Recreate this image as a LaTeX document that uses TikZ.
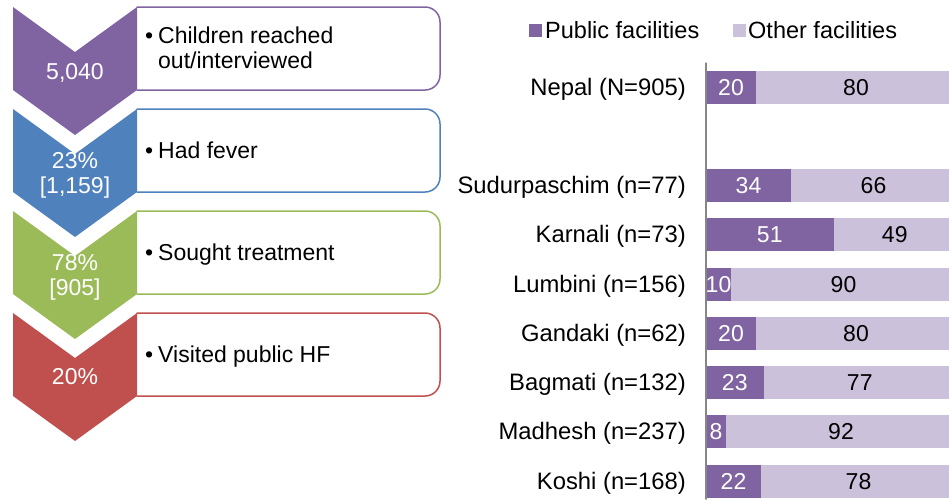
\documentclass[tikz,border=0pt]{standalone}
\usepackage{fontspec}
\setmainfont{Liberation Sans}
\usepackage{tikz}
\definecolor{chevpur}{rgb}{0.502,0.392,0.635}
\definecolor{chevblu}{rgb}{0.310,0.506,0.741}
\definecolor{chevgrn}{rgb}{0.608,0.733,0.349}
\definecolor{chevred}{rgb}{0.753,0.314,0.302}
\definecolor{barlight}{rgb}{0.800,0.757,0.855}
\definecolor{axisgray}{rgb}{0.525,0.525,0.525}

\begin{document}
\begin{tikzpicture}[line cap=round,line join=round,x=1pt,y=-1pt,
		every node/.style={font=\fontsize{23}{25}\selectfont},
		boxline/.style={line width=1.5pt,rounded corners=15pt},
		chevtext/.style={text=white,align=center,inner sep=0pt},
		bullettext/.style={anchor=west,inner sep=0pt},
		catlabel/.style={anchor=base east,inner sep=0pt,font=\fontsize{23.8}{25}\selectfont},
		legtext/.style={anchor=base west,inner sep=0pt,font=\fontsize{23.5}{25}\selectfont},
		barlabel/.style={anchor=base,inner sep=0pt},
		legsquare/.style={minimum size=13pt,inner sep=0pt}]
		\useasboundingbox (0.,0.) rectangle (949.,499.);
		\clip (0.,0.) rectangle (949.,499.);
		% steps
		\draw [boxline,color=chevpur] (137.,7.) -- (440.,7.) -- (440.,90.) -- (137.,90.);
		\draw [boxline,color=chevblu] (137.,109.) -- (440.,109.) -- (440.,192.) -- (137.,192.);
		\draw [boxline,color=chevgrn] (137.,211.) -- (440.,211.) -- (440.,294.) -- (137.,294.);
		\draw [boxline,color=chevred] (137.,313.) -- (440.,313.) -- (440.,396.) -- (137.,396.);
		\fill [color=chevpur] (13.,7.) -- (75.,52.) -- (137.,7.) -- (137.,90.) -- (75.,135.) -- (13.,90.) -- cycle;
		\fill [color=chevblu] (13.,109.) -- (75.,154.) -- (137.,109.) -- (137.,192.) -- (75.,237.) -- (13.,192.) -- cycle;
		\fill [color=chevgrn] (13.,211.) -- (75.,256.) -- (137.,211.) -- (137.,294.) -- (75.,339.) -- (13.,294.) -- cycle;
		\fill [color=chevred] (13.,313.) -- (75.,358.) -- (137.,313.) -- (137.,396.) -- (75.,441.) -- (13.,396.) -- cycle;
		\node [chevtext] (chev1) at (75.,73.) {5,040};
		\node [chevtext] (chev2) at (75.,175.) {23\%\\{[1,159]}};
		\node [chevtext] (chev3) at (75.,277.) {78\%\\{[905]}};
		\node [chevtext] (chev4) at (75.,377.) {20\%};
		\node [bullettext] (step1) at (145.,51.) {\begin{tabular}{@{}p{13pt}@{}l@{}}\textbullet & Children reached\\ & out/interviewed\end{tabular}};
		\node [bullettext] (step2) at (145.,153.5) {\begin{tabular}{@{}p{13pt}@{}l@{}}\textbullet & Had fever\end{tabular}};
		\node [bullettext] (step3) at (145.,255.5) {\begin{tabular}{@{}p{13pt}@{}l@{}}\textbullet & Sought treatment\end{tabular}};
		\node [bullettext] (step4) at (145.,357.5) {\begin{tabular}{@{}p{13pt}@{}l@{}}\textbullet & Visited public HF\end{tabular}};
		% legend
		\node [legsquare,fill=chevpur] (legpub) at (535.,30.) {};
		\node [legtext] (legpubtxt) at (545.,38.) {Public facilities};
		\node [legsquare,fill=barlight] (legoth) at (739.,30.) {};
		\node [legtext] (legothtxt) at (748.,38.) {Other facilities};
		% bars
		\fill [color=barlight] (706.,70.5) rectangle (956.,103.5);
		\fill [color=barlight] (706.,169.) rectangle (956.,202.);
		\fill [color=barlight] (706.,218.) rectangle (956.,251.);
		\fill [color=barlight] (706.,267.5) rectangle (956.,300.5);
		\fill [color=barlight] (706.,317.) rectangle (956.,350.);
		\fill [color=barlight] (706.,366.) rectangle (956.,399.);
		\fill [color=barlight] (706.,415.) rectangle (956.,448.);
		\fill [color=barlight] (706.,464.5) rectangle (956.,497.5);
		\fill [color=chevpur] (706.,70.5) rectangle (756.,103.5);
		\fill [color=chevpur] (706.,169.) rectangle (791.,202.);
		\fill [color=chevpur] (706.,218.) rectangle (833.5,251.);
		\fill [color=chevpur] (706.,267.5) rectangle (731.,300.5);
		\fill [color=chevpur] (706.,317.) rectangle (756.,350.);
		\fill [color=chevpur] (706.,366.) rectangle (763.5,399.);
		\fill [color=chevpur] (706.,415.) rectangle (726.,448.);
		\fill [color=chevpur] (706.,464.5) rectangle (761.,497.5);
		\draw [line width=1.5pt,color=axisgray] (706.,63.) -- (706.,499.);
		% category labels
		\node [catlabel] (catnepal) at (686.,95.) {Nepal (N=905)};
		\node [catlabel] (catsudur) at (686.,193.5) {Sudurpaschim (n=77)};
		\node [catlabel] (catkarnali) at (686.,242.75) {Karnali (n=73)};
		\node [catlabel] (catlumbini) at (686.,292.) {Lumbini (n=156)};
		\node [catlabel] (catgandaki) at (686.,341.25) {Gandaki (n=62)};
		\node [catlabel] (catbagmati) at (686.,390.5) {Bagmati (n=132)};
		\node [catlabel] (catmadhesh) at (686.,439.75) {Madhesh (n=237)};
		\node [catlabel] (catkoshi) at (686.,489.) {Koshi (n=168)};
		% values
		\node [barlabel,text=white] (pubnepal) at (731.,95.) {20};
		\node [barlabel,text=white] (pubsudur) at (748.5,193.5) {34};
		\node [barlabel,text=white] (pubkarnali) at (769.75,242.75) {51};
		\node [barlabel,text=white] (publumbini) at (718.5,292.) {10};
		\node [barlabel,text=white] (pubgandaki) at (731.,341.25) {20};
		\node [barlabel,text=white] (pubbagmati) at (734.75,390.5) {23};
		\node [barlabel,text=white] (pubmadhesh) at (716.,439.75) {8};
		\node [barlabel,text=white] (pubkoshi) at (733.5,489.) {22};
		\node [barlabel] (othnepal) at (856.,95.) {80};
		\node [barlabel] (othsudur) at (873.5,193.5) {66};
		\node [barlabel] (othkarnali) at (894.75,242.75) {49};
		\node [barlabel] (othlumbini) at (843.5,292.) {90};
		\node [barlabel] (othgandaki) at (856.,341.25) {80};
		\node [barlabel] (othbagmati) at (859.75,390.5) {77};
		\node [barlabel] (othmadhesh) at (841.,439.75) {92};
		\node [barlabel] (othkoshi) at (858.5,489.) {78};
		\end{tikzpicture}
\end{document}
